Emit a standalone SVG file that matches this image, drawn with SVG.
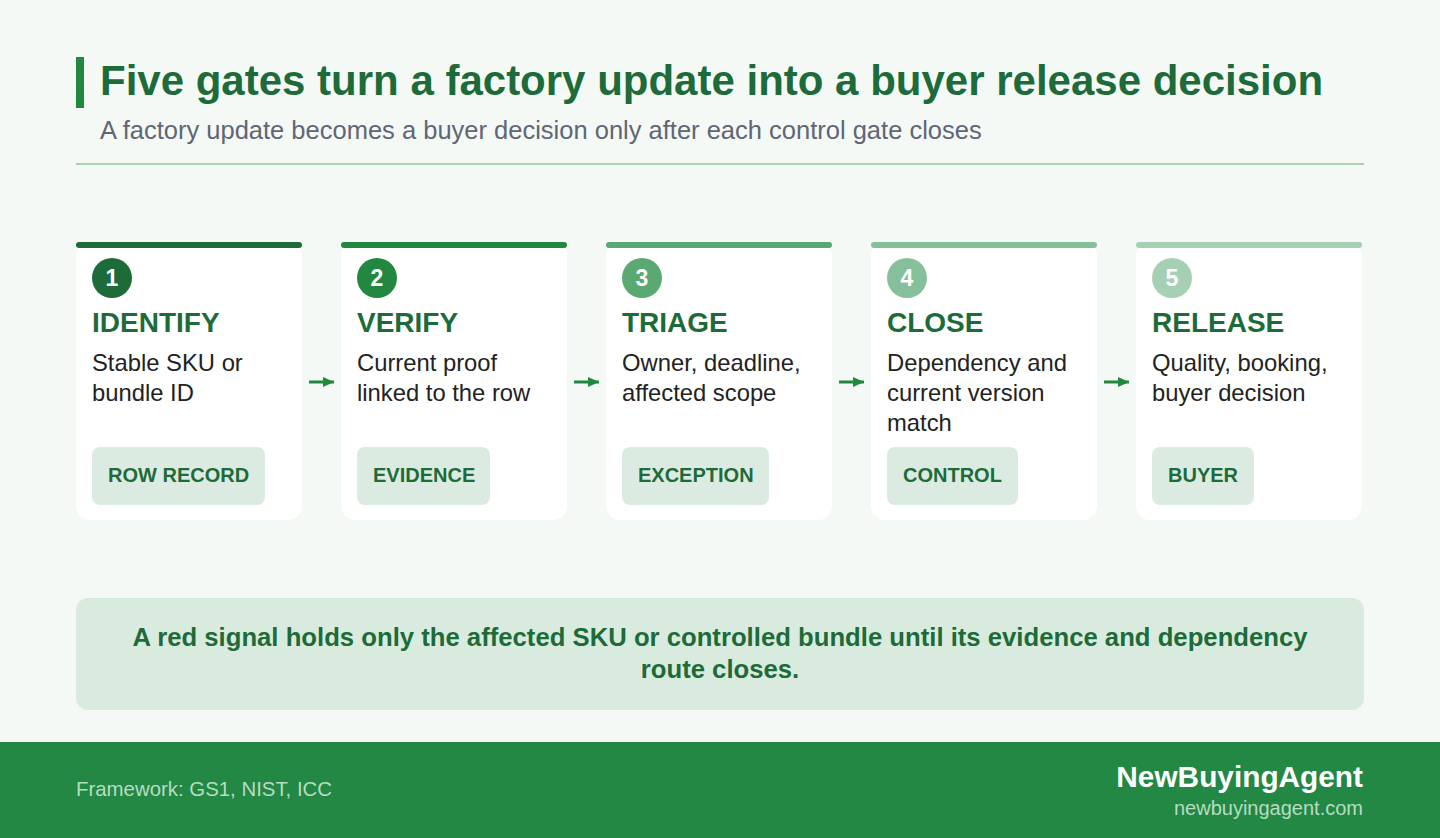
<svg xmlns="http://www.w3.org/2000/svg" width="1440" height="838" viewBox="0 0 1440 838">
<defs>
<style>
.t{font-family:"Liberation Sans",Arial,sans-serif}
.title{font-size:42px;font-weight:bold;fill:#1e6b3a}
.sub{font-size:25.5px;fill:#5f6675}
.card{fill:#ffffff}
.num{font-size:23px;font-weight:bold;fill:#ffffff;text-anchor:middle}
.head{font-size:28px;font-weight:bold;fill:#1e6b3a}
.desc{font-size:23.8px;fill:#222222}
.tag{fill:#dcebe1}
.tagt{font-size:20px;font-weight:bold;fill:#1e6b3a}
.note{font-size:25.7px;font-weight:bold;fill:#1e6b3a;text-anchor:middle}
.conn{stroke:#22883f;stroke-width:3;fill:none}
</style>
<marker id="ah" markerWidth="12" markerHeight="12" refX="11" refY="5" orient="auto" markerUnits="userSpaceOnUse">
<path d="M0,0 L11,5 L0,10 Z" fill="#22883f"/>
</marker>
</defs>
<rect width="1440" height="838" fill="#f4f9f5"/>
<g id="header">
<rect x="76" y="57" width="8" height="51" fill="#22883f"/>
<text class="t title" x="100" y="95">Five gates turn a factory update into a buyer release decision</text>
<text class="t sub" x="100" y="139">A factory update becomes a buyer decision only after each control gate closes</text>
<rect x="76" y="163" width="1288" height="2" fill="#a8d4b4"/>
</g>
<g id="connectors">
<path class="conn" d="M309,382 H334" marker-end="url(#ah)"/>
<path class="conn" d="M574,382 H599" marker-end="url(#ah)"/>
<path class="conn" d="M839,382 H864" marker-end="url(#ah)"/>
<path class="conn" d="M1104,382 H1129" marker-end="url(#ah)"/>
</g>
<g id="node1">
<rect class="card" x="76" y="242" width="226" height="278" rx="14"/>
<rect x="76" y="242" width="226" height="6" rx="3" fill="#1e6b3a"/>
<circle cx="112" cy="278" r="20" fill="#1e6b3a"/>
<text class="t num" x="112" y="286">1</text>
<text class="t head" x="92" y="332">IDENTIFY</text>
<text class="t desc" x="92" y="371">Stable SKU or</text>
<text class="t desc" x="92" y="401">bundle ID</text>
<rect class="tag" x="92" y="447" width="173" height="58" rx="8"/>
<text class="t tagt" x="108" y="482">ROW RECORD</text>
</g>
<g id="node2">
<rect class="card" x="341" y="242" width="226" height="278" rx="14"/>
<rect x="341" y="242" width="226" height="6" rx="3" fill="#22883f"/>
<circle cx="377" cy="278" r="20" fill="#22883f"/>
<text class="t num" x="377" y="286">2</text>
<text class="t head" x="357" y="332">VERIFY</text>
<text class="t desc" x="357" y="371">Current proof</text>
<text class="t desc" x="357" y="401">linked to the row</text>
<rect class="tag" x="357" y="447" width="133" height="58" rx="8"/>
<text class="t tagt" x="373" y="482">EVIDENCE</text>
</g>
<g id="node3">
<rect class="card" x="606" y="242" width="226" height="278" rx="14"/>
<rect x="606" y="242" width="226" height="6" rx="3" fill="#5aa872"/>
<circle cx="642" cy="278" r="20" fill="#5aa872"/>
<text class="t num" x="642" y="286">3</text>
<text class="t head" x="622" y="332">TRIAGE</text>
<text class="t desc" x="622" y="371">Owner, deadline,</text>
<text class="t desc" x="622" y="401">affected scope</text>
<rect class="tag" x="622" y="447" width="147" height="58" rx="8"/>
<text class="t tagt" x="638" y="482">EXCEPTION</text>
</g>
<g id="node4">
<rect class="card" x="871" y="242" width="226" height="278" rx="14"/>
<rect x="871" y="242" width="226" height="6" rx="3" fill="#86c09a"/>
<circle cx="907" cy="278" r="20" fill="#86c09a"/>
<text class="t num" x="907" y="286">4</text>
<text class="t head" x="887" y="332">CLOSE</text>
<text class="t desc" x="887" y="371">Dependency and</text>
<text class="t desc" x="887" y="401">current version</text>
<text class="t desc" x="887" y="431">match</text>
<rect class="tag" x="887" y="447" width="131" height="58" rx="8"/>
<text class="t tagt" x="903" y="482">CONTROL</text>
</g>
<g id="node5">
<rect class="card" x="1136" y="242" width="226" height="278" rx="14"/>
<rect x="1136" y="242" width="226" height="6" rx="3" fill="#a6d0b4"/>
<circle cx="1172" cy="278" r="20" fill="#a6d0b4"/>
<text class="t num" x="1172" y="286">5</text>
<text class="t head" x="1152" y="332">RELEASE</text>
<text class="t desc" x="1152" y="371">Quality, booking,</text>
<text class="t desc" x="1152" y="401">buyer decision</text>
<rect class="tag" x="1152" y="447" width="102" height="58" rx="8"/>
<text class="t tagt" x="1168" y="482">BUYER</text>
</g>
<g id="note">
<rect x="76" y="598" width="1288" height="112" rx="12" fill="#d9ebdf"/>
<text class="t note" x="720" y="646">A red signal holds only the affected SKU or controlled bundle until its evidence and dependency</text>
<text class="t note" x="720" y="678">route closes.</text>
</g>
<g id="footer">
<rect x="0" y="742" width="1440" height="96" fill="#228844"/>
<text class="t" x="76" y="796" font-size="20.4" fill="#b7dcc2">Framework: GS1, NIST, ICC</text>
<text class="t" x="1363" y="787" font-size="29.8" font-weight="bold" fill="#ffffff" text-anchor="end">NewBuyingAgent</text>
<text class="t" x="1363" y="815" font-size="20" fill="#b7dcc2" text-anchor="end">newbuyingagent.com</text>
</g>
</svg>
